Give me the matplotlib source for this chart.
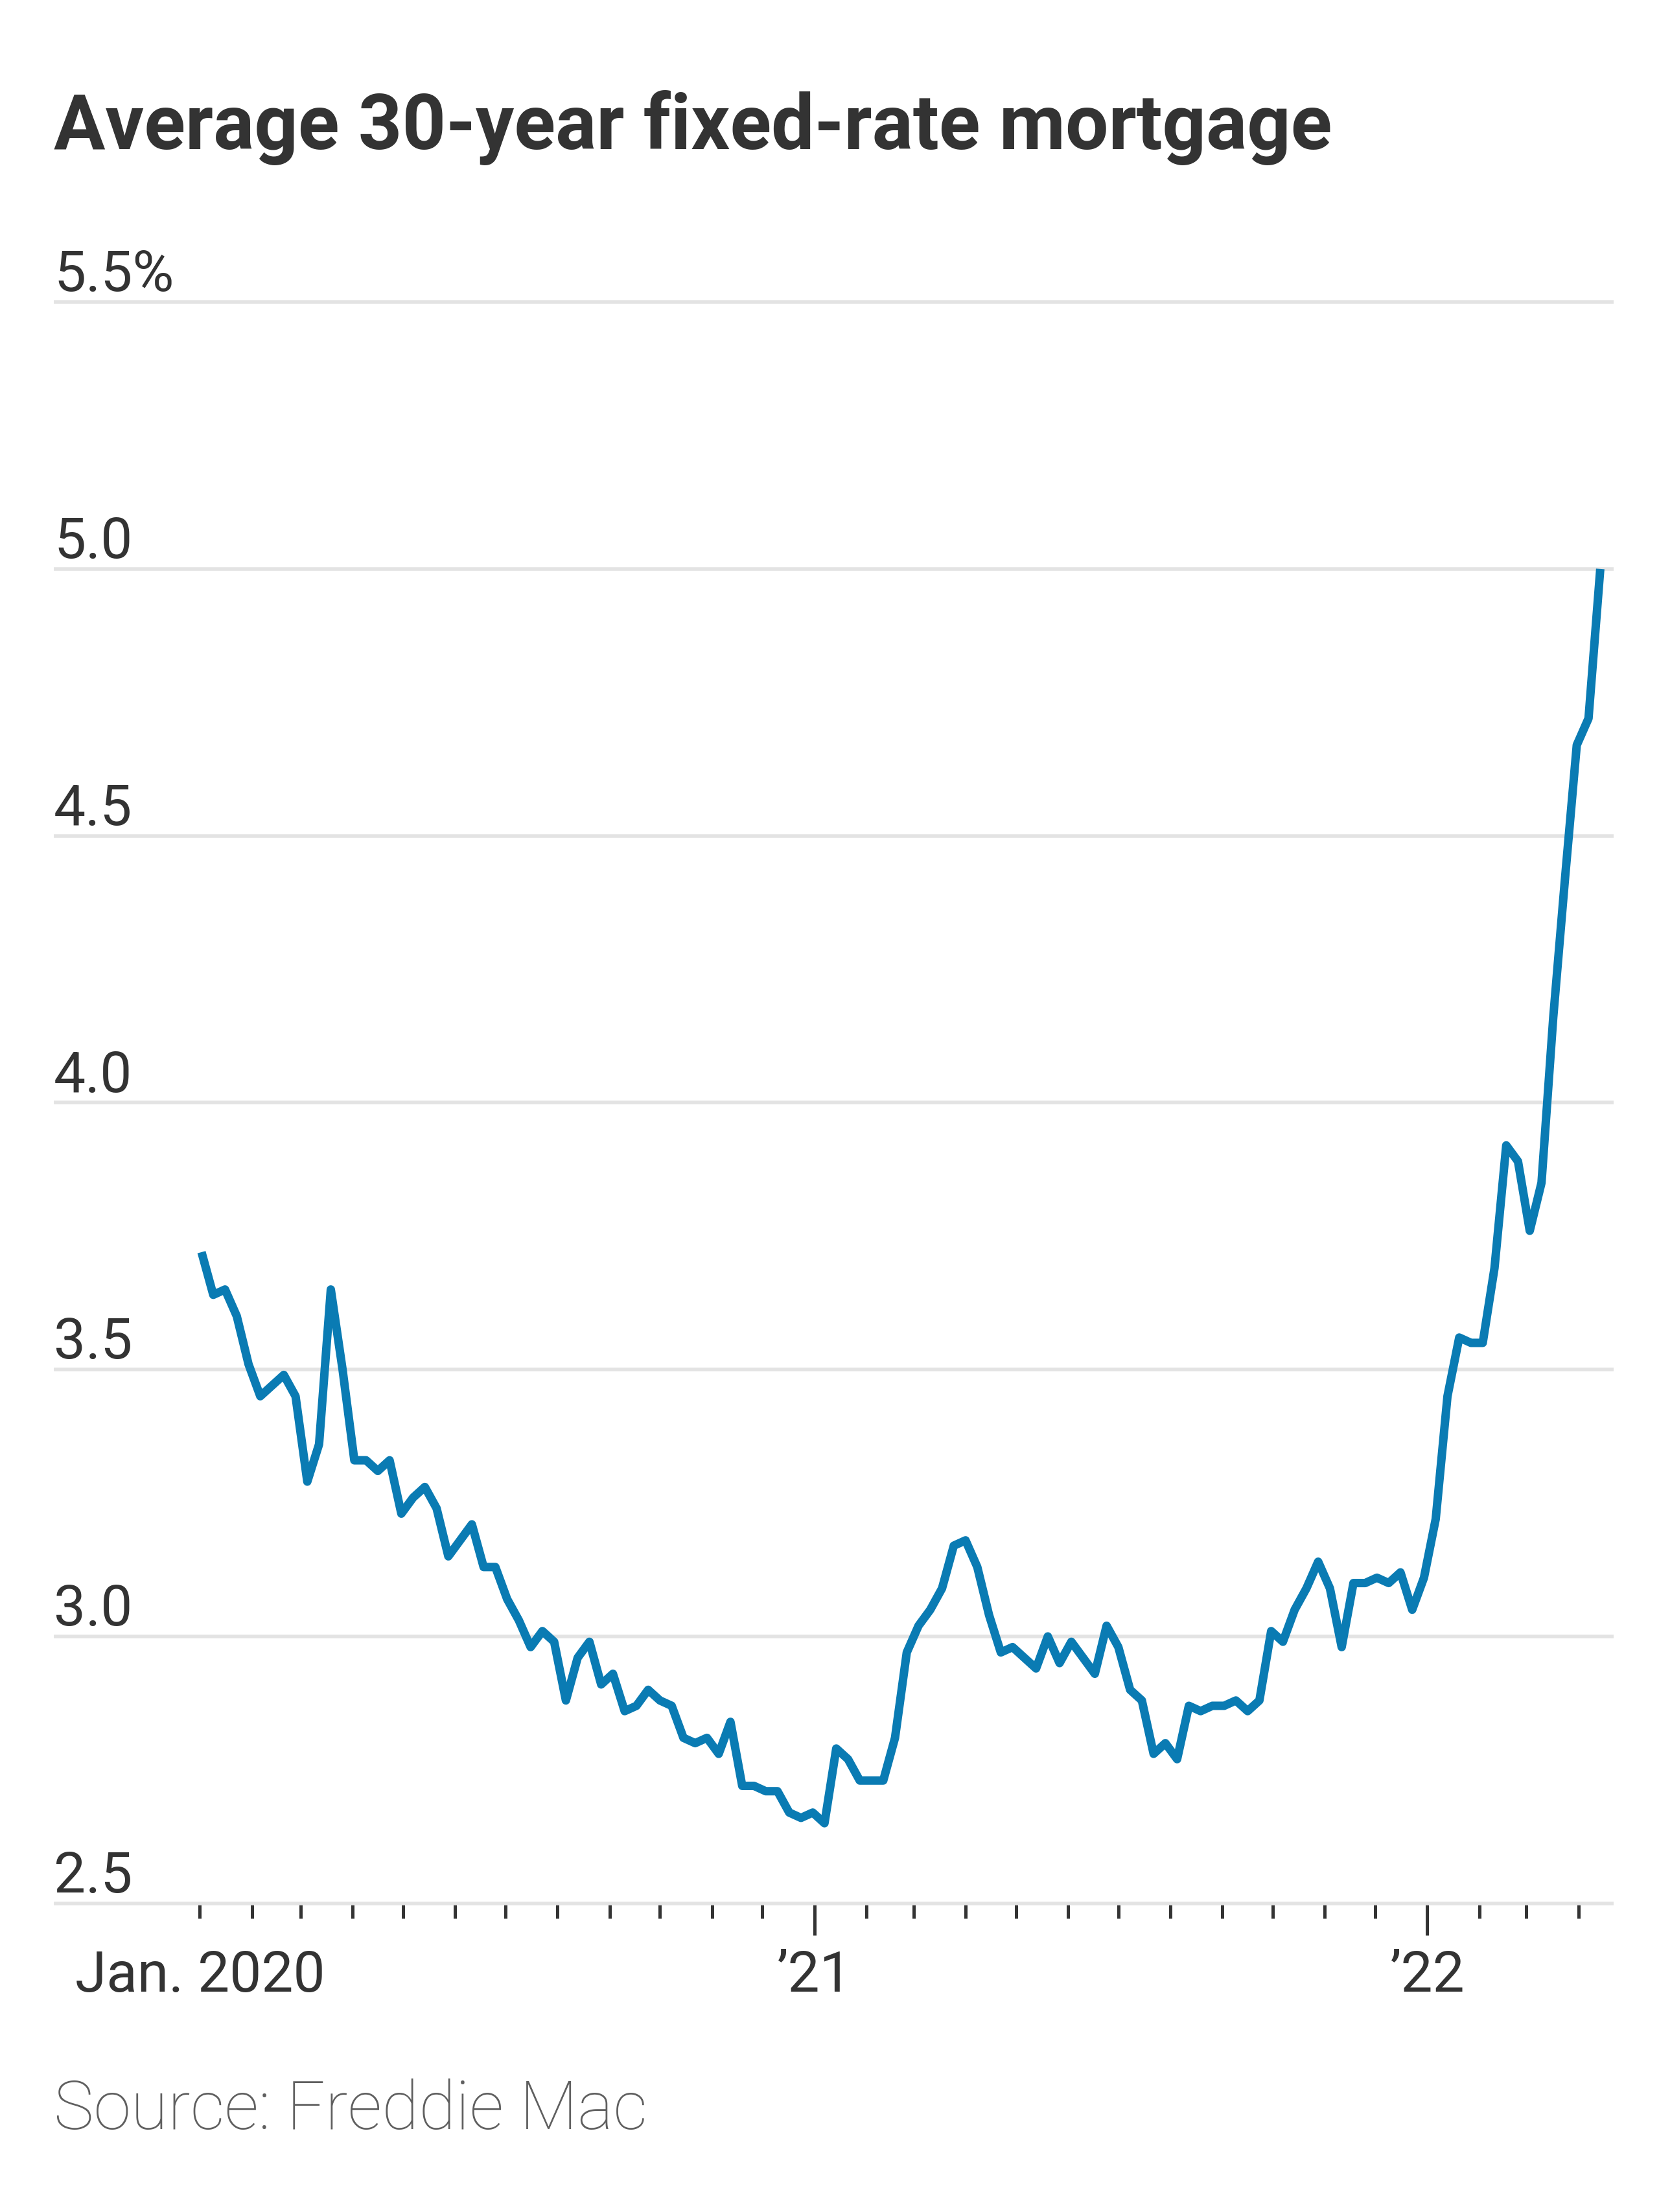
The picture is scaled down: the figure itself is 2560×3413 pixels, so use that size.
import matplotlib

matplotlib.use("Agg")
import matplotlib.pyplot as plt
import matplotlib.ticker as mticker
import matplotlib.transforms as mtransforms
import matplotlib.dates as mdates
import pandas as pd

# Freddie Mac PMMS, average 30-year fixed rate, weekly (Thursdays), %
rates_2020 = [
    3.72, 3.64, 3.65, 3.60, 3.51,
    3.45, 3.47, 3.49, 3.45,
    3.29, 3.36, 3.65, 3.50,
    3.33, 3.33, 3.31, 3.33, 3.23,
    3.26, 3.28, 3.24, 3.15,
    3.18, 3.21, 3.13, 3.13,
    3.07, 3.03, 2.98, 3.01, 2.99,
    2.88, 2.96, 2.99, 2.91,
    2.93, 2.86, 2.87, 2.90,
    2.88, 2.87, 2.81, 2.80, 2.81,
    2.78, 2.84, 2.72, 2.72,
    2.71, 2.71, 2.67, 2.66, 2.67,
]
rates_2021 = [
    2.65, 2.79, 2.77, 2.73,
    2.73, 2.73, 2.81, 2.97,
    3.02, 3.05, 3.09, 3.17,
    3.18, 3.13, 3.04, 2.97, 2.98,
    2.96, 2.94, 3.00, 2.95,
    2.99, 2.96, 2.93, 3.02,
    2.98, 2.90, 2.88, 2.78, 2.80,
    2.77, 2.87, 2.86, 2.87,
    2.87, 2.88, 2.86, 2.88, 3.01,
    2.99, 3.05, 3.09, 3.14,
    3.09, 2.98, 3.10, 3.10,
    3.11, 3.10, 3.12, 3.05, 3.11,
]
rates_2022 = [
    3.22, 3.45, 3.56, 3.55,
    3.55, 3.69, 3.92, 3.89,
    3.76, 3.85, 4.16, 4.42, 4.67,
    4.72, 5.00,
]
rates = rates_2020 + rates_2021 + rates_2022
weeks = pd.date_range("2020-01-02", periods=len(rates), freq="W-THU")

y_ticks = [2.5, 3.0, 3.5, 4.0, 4.5, 5.0, 5.5]
y_labels = ["2.5", "3.0", "3.5", "4.0", "4.5", "5.0", "5.5%"]
x_ticks = ["2020-01-01", "2021-01-01", "2022-01-01"]
x_labels = ["Jan. 2020", "\u201921", "\u201922"]
month_ticks = pd.date_range("2020-01-01", "2022-04-01", freq="MS")

title = "Average 30-year fixed-rate mortgage"
source = "Source: Freddie Mac"

BLUE = "#0a7bb3"
INK = "#333333"
GRID = "#e3e3e3"
LABEL_FONT = ["Roboto", "DejaVu Sans"]

fig = plt.figure(figsize=(25.6, 34.13), dpi=100)
ax = fig.add_axes([0.0324, 0.1275, 0.9403, 0.748])

ax.plot(weeks, rates, color=BLUE, linewidth=9.4, solid_capstyle="butt",
        solid_joinstyle="round", zorder=3)

ax.set_ylim(2.45, 5.55)
ax.set_xlim(pd.Timestamp("2019-10-06"), pd.Timestamp("2022-04-22"))

for side in ("top", "right", "left", "bottom"):
    ax.spines[side].set_visible(False)
ax.spines["bottom"].set_position(("data", 2.5))

ax.set_yticks(y_ticks)
ax.yaxis.grid(True, color=GRID, linewidth=4.0)
ax.tick_params(axis="y", length=0, labelleft=False)
ax.set_axisbelow(True)

lift = mtransforms.ScaledTranslation(0, 12 / 72, fig.dpi_scale_trans)
for val, lab in zip(y_ticks, y_labels):
    ax.text(0, val, lab, transform=ax.get_yaxis_transform() + lift,
            ha="left", va="baseline", fontsize=63, color=INK,
            family=LABEL_FONT)

ax.set_xticks(pd.to_datetime(x_ticks))
ax.set_xticklabels(x_labels)
ax.xaxis.set_minor_locator(mticker.FixedLocator(mdates.date2num(month_ticks)))
ax.tick_params(axis="x", which="major", length=35, width=3.6, color=INK,
               pad=16, labelsize=63, labelcolor=INK)
ax.tick_params(axis="x", which="minor", length=16.5, width=3.6, color=INK)
for lab in ax.get_xticklabels():
    lab.set_family(LABEL_FONT)
# the first month tick is drawn short like the minor ones
ax.xaxis.get_major_ticks()[0].tick1line.set_markersize(16.5)

fig.text(0.0324, 0.9325, title, ha="left", va="baseline", fontsize=85,
         fontweight="bold", color=INK, family=LABEL_FONT)
fig.text(0.0324, 0.0375, source, ha="left", va="baseline", fontsize=75,
         color="#5f5f5f", family=LABEL_FONT, fontweight="light")

fig.savefig("out.png", dpi=100)
